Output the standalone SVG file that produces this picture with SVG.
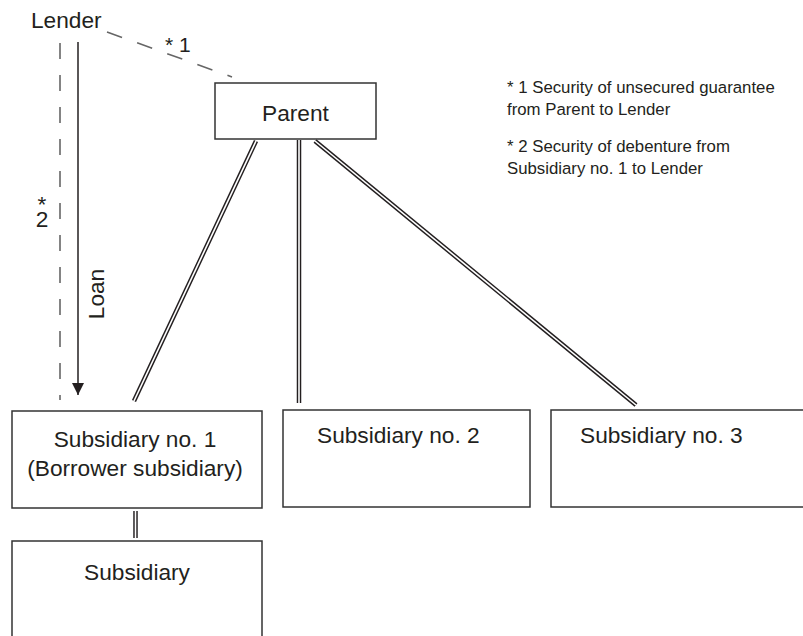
<svg xmlns="http://www.w3.org/2000/svg" width="803" height="636" viewBox="0 0 803 636">
  <defs>
    <style>
      text { font-family: "Liberation Sans", Arial, sans-serif; fill: #231f20; }
      .lbl { font-size: 22.7px; }
      .note { font-size: 16.8px; }
      .box { fill: #ffffff; stroke: #333333; stroke-width: 1.5; }
      .dbl-out { stroke: #231f20; stroke-width: 4.5; fill: none; }
      .dbl-in { stroke: #ffffff; stroke-width: 1.6; fill: none; }
      .dash { stroke: #666666; stroke-width: 1.6; stroke-dasharray: 16 16; fill: none; }
      .solid { stroke: #231f20; stroke-width: 1.5; fill: none; }
    </style>
    <marker id="arrow" markerWidth="12" markerHeight="12" refX="12" refY="6" orient="auto" markerUnits="userSpaceOnUse">
      <path d="M0,0 L12,6 L0,12 Z" fill="#231f20"/>
    </marker>
  </defs>
  <rect width="803" height="636" fill="#ffffff"/>

  <g id="connectors">
    <line class="dash" x1="107" y1="32" x2="232" y2="77" stroke-dasharray="15 15"/>
    <line class="dash" x1="60" y1="43" x2="60" y2="400"/>
    <line class="solid" x1="78" y1="42" x2="78" y2="395" marker-end="url(#arrow)"/>

    <line class="dbl-out" x1="256" y1="141" x2="134" y2="401"/>
    <line class="dbl-in" x1="256" y1="141" x2="134" y2="401"/>
    <line class="dbl-out" x1="299" y1="140" x2="299" y2="403"/>
    <line class="dbl-in" x1="299" y1="140" x2="299" y2="403"/>
    <line class="dbl-out" x1="315" y1="141" x2="636" y2="405"/>
    <line class="dbl-in" x1="315" y1="141" x2="636" y2="405"/>
    <line class="dbl-out" x1="135.5" y1="511" x2="135.5" y2="538"/>
    <line class="dbl-in" x1="135.5" y1="511" x2="135.5" y2="538"/>
  </g>

  <g id="lender">
    <text class="lbl" x="31" y="28">Lender</text>
  </g>

  <g id="parent">
    <rect class="box" x="215" y="83" width="161" height="56"/>
    <text class="lbl" x="295.5" y="121" text-anchor="middle">Parent</text>
  </g>

  <g id="sub1">
    <rect class="box" x="12" y="411" width="250" height="97"/>
    <text class="lbl" x="135" y="447" text-anchor="middle">Subsidiary no. 1</text>
    <text class="lbl" x="135" y="476" text-anchor="middle">(Borrower subsidiary)</text>
  </g>

  <g id="sub2">
    <rect class="box" x="283" y="410" width="247" height="97"/>
    <text class="lbl" x="317" y="443">Subsidiary no. 2</text>
  </g>

  <g id="sub3">
    <rect class="box" x="551" y="410" width="260" height="97"/>
    <text class="lbl" x="580" y="443">Subsidiary no. 3</text>
  </g>

  <g id="subsidiary">
    <rect class="box" x="12" y="541" width="250" height="110"/>
    <text class="lbl" x="137" y="580" text-anchor="middle">Subsidiary</text>
  </g>

  <g id="labels">
    <text x="165" y="52" font-size="21">* 1</text>
    <text class="lbl" text-anchor="middle"><tspan x="42" y="212">*</tspan><tspan x="42" y="227">2</tspan></text>
    <text class="lbl" transform="translate(104,294) rotate(-90)" text-anchor="middle">Loan</text>
  </g>

  <g id="notes">
    <text class="note" x="507" y="93">* 1 Security of unsecured guarantee</text>
    <text class="note" x="507" y="115">from Parent to Lender</text>
    <text class="note" x="507" y="152">* 2 Security of debenture from</text>
    <text class="note" x="507" y="174">Subsidiary no. 1 to Lender</text>
  </g>
</svg>
